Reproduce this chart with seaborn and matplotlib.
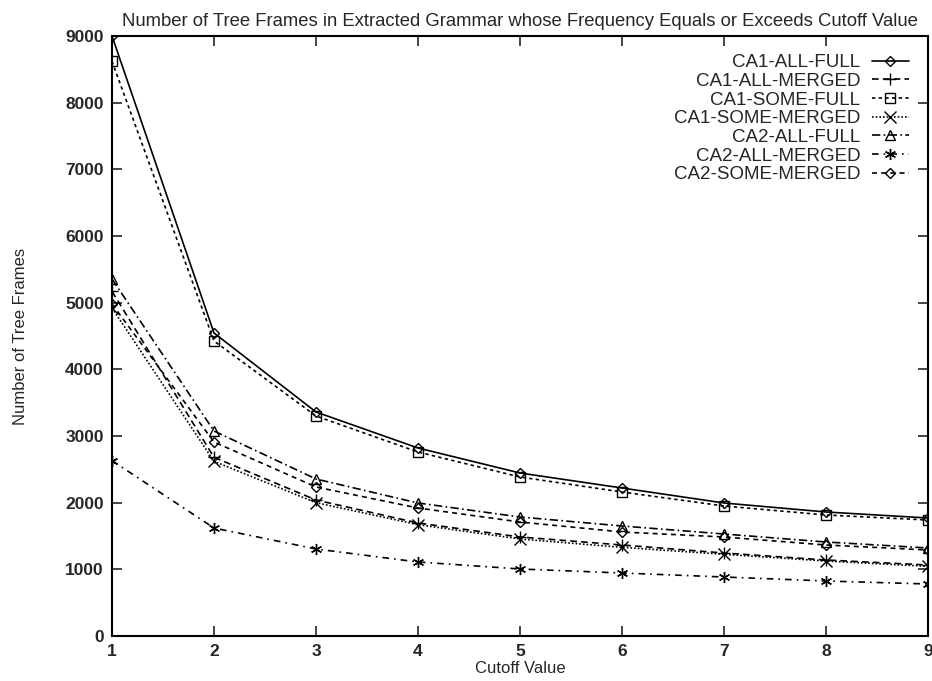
import matplotlib
matplotlib.use("Agg")
import matplotlib.pyplot as plt
import seaborn as sns
import pandas as pd

cutoff = [1, 2, 3, 4, 5, 6, 7, 8, 9]
ca1_all_full = [9000, 4545, 3360, 2820, 2445, 2220, 1995, 1860, 1770]
ca1_all_merged = [5170, 2680, 2040, 1695, 1485, 1365, 1245, 1140, 1065]
ca1_some_full = [8620, 4425, 3300, 2760, 2385, 2160, 1950, 1815, 1740]
ca1_some_merged = [4920, 2620, 2000, 1670, 1455, 1330, 1225, 1125, 1045]
ca2_all_full = [5355, 3075, 2355, 1995, 1785, 1650, 1530, 1410, 1320]
ca2_all_merged = [2630, 1620, 1305, 1110, 1005, 945, 885, 825, 780]
ca2_some_merged = [4980, 2910, 2235, 1920, 1710, 1560, 1485, 1365, 1290]

series_names = ["CA1-ALL-FULL", "CA1-ALL-MERGED", "CA1-SOME-FULL", "CA1-SOME-MERGED",
                "CA2-ALL-FULL", "CA2-ALL-MERGED", "CA2-SOME-MERGED"]
series_values = [ca1_all_full, ca1_all_merged, ca1_some_full, ca1_some_merged,
                 ca2_all_full, ca2_all_merged, ca2_some_merged]

y_ticks = [0, 1000, 2000, 3000, 4000, 5000, 6000, 7000, 8000, 9000]

rows = []
for name, vals in zip(series_names, series_values):
    for x, v in zip(cutoff, vals):
        rows.append({"Cutoff Value": x, "Frames": v, "Series": name})
df = pd.DataFrame(rows)

sns.set_theme(style="ticks")
plt.rcParams['font.family'] = ['Liberation Sans', 'DejaVu Sans']

styles = {
    "CA1-ALL-FULL": dict(ls="-", marker="D", ms=5, mfc="none"),
    "CA1-ALL-MERGED": dict(ls=(0, (4, 2.5)), marker="+", ms=8, mfc="none"),
    "CA1-SOME-FULL": dict(ls=(0, (2, 2)), marker="s", ms=7, mfc="none"),
    "CA1-SOME-MERGED": dict(ls=(0, (1, 1.2)), marker="x", ms=8, mfc="none"),
    "CA2-ALL-FULL": dict(ls=(0, (5, 2, 1, 2)), marker="^", ms=7, mfc="none"),
    "CA2-ALL-MERGED": dict(ls=(0, (4, 3, 1, 3)), marker=(6, 2, 0), ms=8, mfc="none"),
    "CA2-SOME-MERGED": dict(ls=(0, (3, 2.5)), marker="D", ms=5, mfc="none"),
}

fig = plt.figure(figsize=(9.32, 6.81), dpi=100)
ax = fig.add_axes([112/932, 1 - 636/681, (928-112)/932, (636-36)/681])

for name in series_names:
    st = styles[name]
    sub = df[df["Series"] == name]
    sns.lineplot(data=sub, x="Cutoff Value", y="Frames", ax=ax, color="black",
                 linestyle=st["ls"], marker=st["marker"], markersize=st["ms"],
                 markerfacecolor=st["mfc"], markeredgecolor="black",
                 markeredgewidth=1.0, linewidth=1.2, label=name)

ax.set_xlim(1, 9)
ax.set_ylim(0, 9000)
ax.set_xticks(cutoff)
ax.set_yticks(y_ticks)
ax.tick_params(direction="in", length=7, width=1.2, top=True, right=True,
               labelsize=12.5, pad=6)
for s in ax.spines.values():
    s.set_linewidth(1.5)
    s.set_color("black")
for lab in ax.get_xticklabels() + ax.get_yticklabels():
    lab.set_fontweight("bold")

ax.set_xlabel("Cutoff Value", fontsize=12, labelpad=1)
ax.set_ylabel("Number of Tree Frames", fontsize=12, labelpad=27)
ax.set_title("Number of Tree Frames in Extracted Grammar whose Frequency Equals or Exceeds Cutoff Value",
             fontsize=13.3, pad=7)

leg = ax.legend(loc="upper right", bbox_to_anchor=(0.986, 0.982), frameon=False,
                markerfirst=False, fontsize=13.5, handlelength=2.0,
                handletextpad=0.6, labelspacing=0.08, borderaxespad=0)

fig.savefig("out.png", dpi=100)
